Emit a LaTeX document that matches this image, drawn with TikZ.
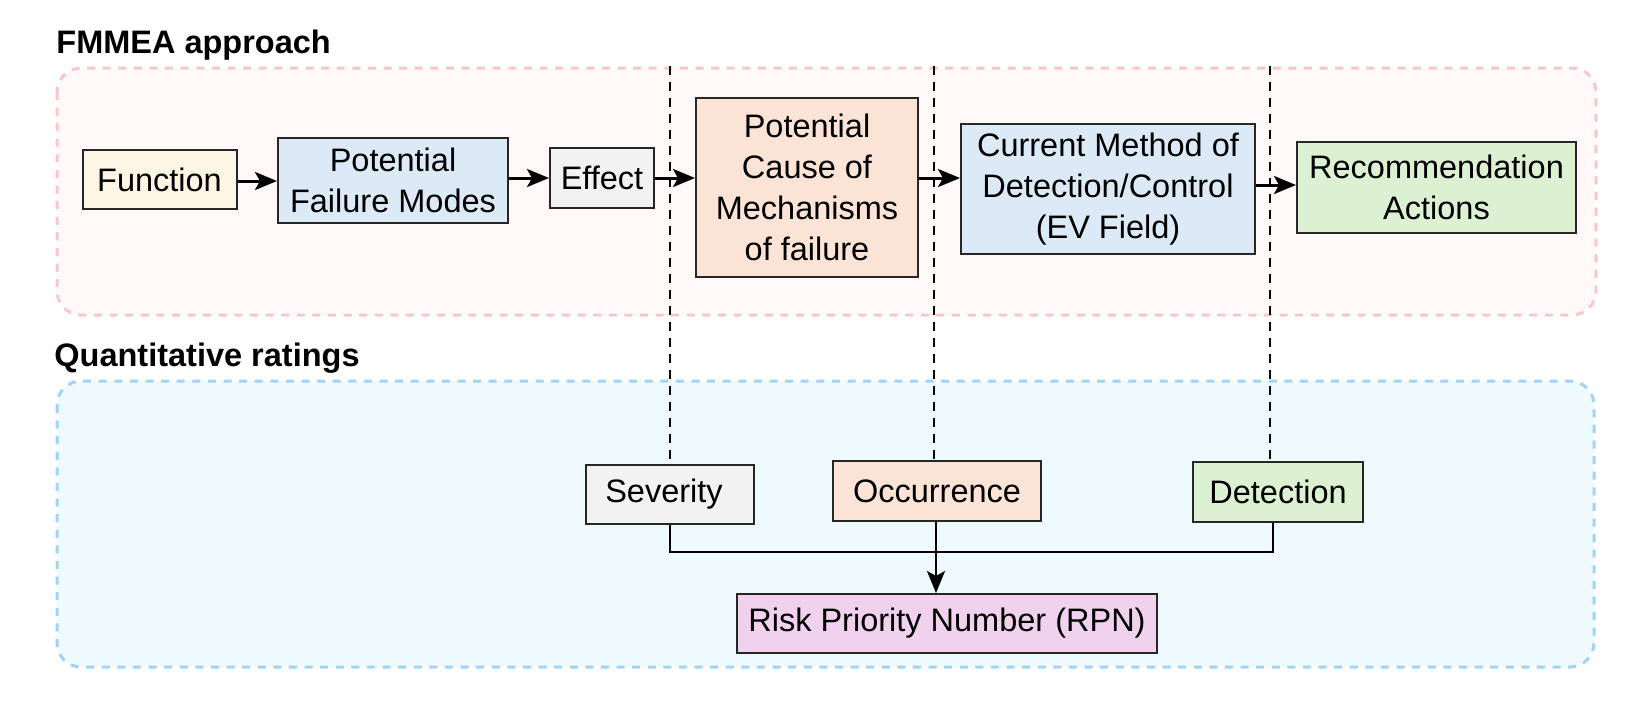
\documentclass[tikz,border=0pt]{standalone}
\usepackage{fontspec}
\setmainfont{Liberation Sans}
\usetikzlibrary{arrows.meta}
\definecolor{pinkbg}{HTML}{FFF8F8}
\definecolor{pinkline}{HTML}{F6C6D0}
\definecolor{bluebg}{HTML}{EEFAFD}
\definecolor{blueline}{HTML}{A4D2F2}
\definecolor{cream}{HTML}{FDF5E4}
\definecolor{lblue}{HTML}{DCE9F6}
\definecolor{lgray}{HTML}{F2F2F2}
\definecolor{peach}{HTML}{FBE3D6}
\definecolor{lgreen}{HTML}{DCF1D2}
\definecolor{lviolet}{HTML}{F1D2EE}
\begin{document}
\begin{tikzpicture}[x=0.5pt,y=-0.5pt,
  box/.style={draw=black!85, line width=1pt, inner sep=0pt, align=center,
    font=\fontsize{16.25}{20.5}\selectfont},
  arr/.style={-{Stealth[length=11pt,width=9pt,inset=2.5pt]}, line width=1.5pt},
  guide/.style={line width=0.8pt, dash pattern=on 4.5pt off 3.5pt},
  link/.style={line width=1pt},
  ttl/.style={anchor=base west, inner sep=0pt, font=\bfseries\fontsize{16.25}{20}\selectfont},
  frame/.style={line width=1.5pt, dash pattern=on 4pt off 3.8pt, rounded corners=12pt},
]
\useasboundingbox (0,0) rectangle (1650,725);
% frames
\draw[frame, draw=pinkline, fill=pinkbg] (57,68) rectangle (1596,315);
\draw[frame, draw=blueline, fill=bluebg] (57,381) rectangle (1594,667);
% titles
\node[ttl] (t-fmmea) at (56,53) {FMMEA approach};
\node[ttl] (t-quant) at (54,366) {Quantitative ratings};
% top row
\node[box, fill=cream, minimum width=77pt, minimum height=29.5pt] (func) at (159.5,179.5) {Function};
\node[box, fill=lblue, minimum width=115pt, minimum height=42.5pt] (pfm) at (393,180) {Potential\\Failure Modes};
\node[box, fill=lgray, minimum width=52pt, minimum height=30pt] (eff) at (602,178) {Effect};
\node[box, fill=peach, minimum width=111pt, minimum height=89.5pt] (cause) at (807,187.5) {Potential\\Cause of\\Mechanisms\\of failure};
\node[box, fill=lblue, minimum width=147pt, minimum height=65pt] (cur) at (1108,189) {Current Method of\\Detection/Control\\(EV Field)};
\node[box, fill=lgreen, minimum width=139.5pt, minimum height=45.5pt] (rec) at (1436.5,187.5) {Recommendation\\Actions};
% bottom row
\node[box, fill=lgray, minimum width=84pt, minimum height=29.5pt] (sev) at (670,494.5) {Severity\hspace{6pt}};
\node[box, fill=peach, minimum width=104pt, minimum height=30pt] (occ) at (937,491) {Occurrence};
\node[box, fill=lgreen, minimum width=85pt, minimum height=30pt] (det) at (1278,492) {Detection};
\node[box, fill=lviolet, minimum width=210pt, minimum height=29.5pt] (rpn) at (947,623.5) {Risk Priority Number (RPN)};
% helper coordinates
\coordinate (r1) at (0,181);
\coordinate (r2) at (0,178);
\coordinate (r3) at (0,185);
\coordinate (g1) at (670,66);
\coordinate (g2) at (934,66);
\coordinate (g3) at (1270,66);
\coordinate (j) at (0,552);
% guides
\draw[guide] (g1) -- (g1 |- sev.north);
\draw[guide] (g2) -- (g2 |- occ.north);
\draw[guide] (g3) -- (g3 |- det.north);
% arrows
\draw[arr] (func.east |- r1) -- (pfm.west |- r1);
\draw[arr] (pfm.east |- r2) -- (eff.west |- r2);
\draw[arr] (eff.east |- r2) -- (cause.west |- r2);
\draw[arr] (cause.east |- r2) -- (cur.west |- r2);
\draw[arr] (cur.east |- r3) -- (rec.west |- r3);
% RPN connections
\draw[link] (sev.south) -- (sev.south |- j) -| ([xshift=-2.5pt]det.south);
\draw[arr, line width=1pt] ([xshift=-0.5pt]occ.south) -- ([xshift=-0.5pt]occ.south |- rpn.north);
\end{tikzpicture}
\end{document}
